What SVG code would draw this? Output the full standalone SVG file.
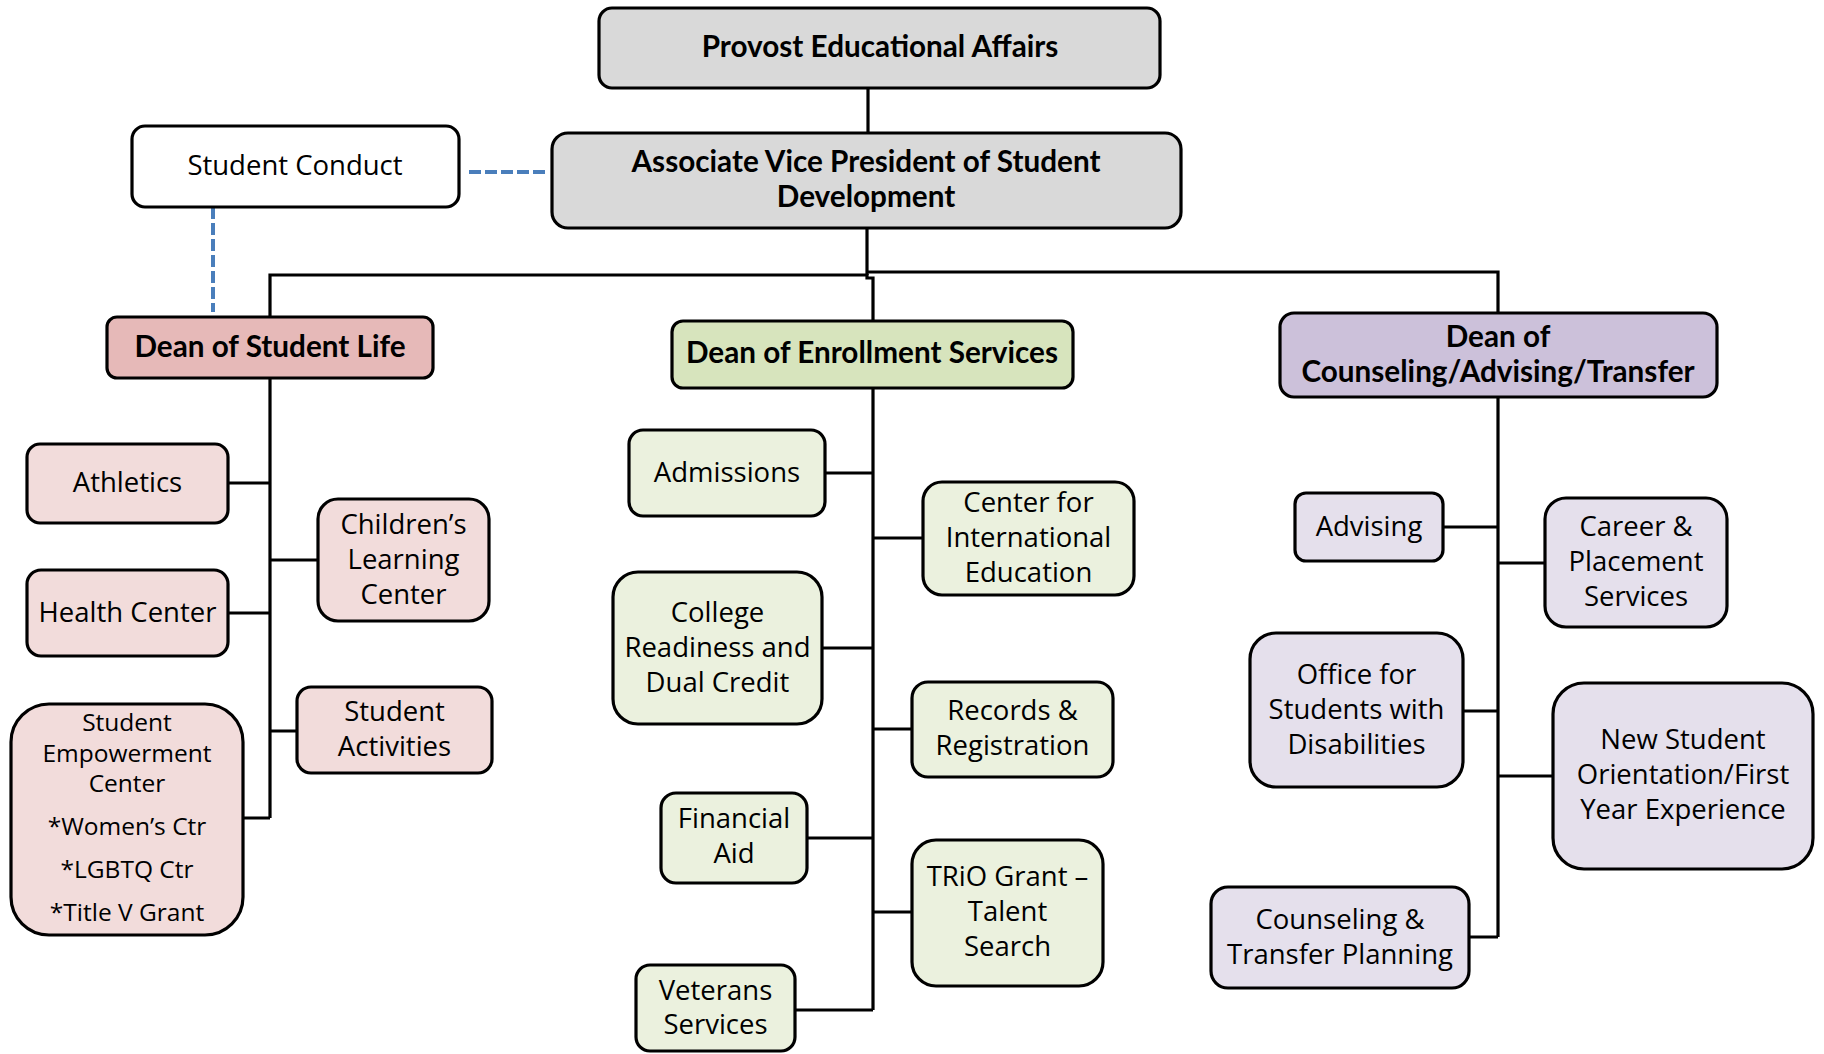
<svg xmlns="http://www.w3.org/2000/svg" width="1824" height="1054" viewBox="0 0 1824 1054">
<style>
  .box { stroke:#000; stroke-width:3.2; }
  .gray { fill:#D9D9D9; }
  .white { fill:#FFFFFF; }
  .redH { fill:#E6B9B8; }
  .red { fill:#F2DCDB; }
  .greenH { fill:#D7E4BD; }
  .green { fill:#EBF1DE; }
  .purpH { fill:#CCC1DA; }
  .purp { fill:#E5E0EC; }
  .t { font-family:"Open Sans","Liberation Sans",sans-serif; font-size:27.5px; fill:#000; text-anchor:middle; }
  .s { font-size:24.5px; }
  .b { font-family:Lato,"Liberation Sans",sans-serif; font-weight:bold; font-size:29.7px; fill:#000; text-anchor:middle; }
  .ln { fill:none; stroke:#000; stroke-width:3.2; }
  .dash { fill:none; stroke:#4A7EBB; stroke-width:4; stroke-dasharray:12 4; }
</style>
<rect width="1824" height="1054" fill="#fff"/>
<g id="connectors">
  <path class="ln" d="M868 88 V133"/>
  <path class="ln" d="M867 228 V275"/>
  <path class="ln" d="M270 317 V275 H867"/>
  <path class="ln" d="M867 272 H1498 V313"/>
  <path class="ln" d="M867 274 V278 H873 V321"/>
  <path class="ln" d="M270 378 V818 M228 483 H270 M270 560 H318 M228 613 H270 M270 731 H297 M243 818 H270"/>
  <path class="ln" d="M873 388 V1010 M825 473 H873 M873 538 H923 M822 648 H873 M873 729 H912 M807 838 H873 M873 912 H912 M795 1010 H873"/>
  <path class="ln" d="M1498 397 V937 M1443 527 H1498 M1498 563 H1545 M1463 711 H1498 M1498 776 H1553 M1469 937 H1498"/>
  <path class="dash" d="M469 172 H545"/>
  <path class="dash" d="M213 207 V312"/>
</g>
<g id="provost"><rect class="box gray" x="599" y="8" width="561" height="80" rx="13"/>
  <text class="b" x="880" y="57">Provost Educational Affairs</text></g>
<g id="avp"><rect class="box gray" x="552" y="133" width="629" height="95" rx="16"/>
  <text class="b" x="866" y="172">Associate Vice President of Student</text>
  <text class="b" x="866" y="207">Development</text></g>
<g id="student-conduct"><rect class="box white" x="132" y="126" width="327" height="81" rx="13"/>
  <text class="t" x="295" y="175">Student Conduct</text></g>
<g id="dean-student-life"><rect class="box redH" x="107" y="317" width="326" height="61" rx="10"/>
  <text class="b" x="270" y="357">Dean of Student Life</text></g>
<g id="dean-enrollment"><rect class="box greenH" x="672" y="321" width="401" height="67" rx="11"/>
  <text class="b" x="872" y="363">Dean of Enrollment Services</text></g>
<g id="dean-counseling"><rect class="box purpH" x="1280" y="313" width="437" height="84" rx="14"/>
  <text class="b" x="1498" y="347">Dean of</text>
  <text class="b" x="1498" y="382">Counseling/Advising/Transfer</text></g>

<g id="athletics"><rect class="box red" x="27" y="444" width="201" height="79" rx="13"/>
  <text class="t" x="127.5" y="492">Athletics</text></g>
<g id="childrens"><rect class="box red" x="318" y="499" width="171" height="122" rx="20"/>
  <text class="t" x="403.5" y="534">Children’s</text>
  <text class="t" x="403.5" y="569">Learning</text>
  <text class="t" x="403.5" y="604">Center</text></g>
<g id="health"><rect class="box red" x="27" y="570" width="201" height="86" rx="14"/>
  <text class="t" x="127.5" y="622">Health Center</text></g>
<g id="activities"><rect class="box red" x="297" y="687" width="195" height="86" rx="14"/>
  <text class="t" x="394.5" y="721">Student</text>
  <text class="t" x="394.5" y="756">Activities</text></g>
<g id="empowerment"><rect class="box red" x="11" y="704" width="232" height="231" rx="38"/>
  <text class="t s" x="127" y="731">Student</text>
  <text class="t s" x="127" y="762">Empowerment</text>
  <text class="t s" x="127" y="792">Center</text>
  <text class="t s" x="127" y="835">*Women’s Ctr</text>
  <text class="t s" x="127" y="878">*LGBTQ Ctr</text>
  <text class="t s" x="127" y="921">*Title V Grant</text></g>

<g id="admissions"><rect class="box green" x="629" y="430" width="196" height="86" rx="14"/>
  <text class="t" x="727" y="482">Admissions</text></g>
<g id="international"><rect class="box green" x="923" y="482" width="211" height="113" rx="19"/>
  <text class="t" x="1028.5" y="512">Center for</text>
  <text class="t" x="1028.5" y="547">International</text>
  <text class="t" x="1028.5" y="582">Education</text></g>
<g id="college-readiness"><rect class="box green" x="613" y="572" width="209" height="152" rx="25"/>
  <text class="t" x="717.5" y="622">College</text>
  <text class="t" x="717.5" y="657">Readiness and</text>
  <text class="t" x="717.5" y="692">Dual Credit</text></g>
<g id="records"><rect class="box green" x="912" y="682" width="201" height="95" rx="16"/>
  <text class="t" x="1012.5" y="720">Records &amp;</text>
  <text class="t" x="1012.5" y="755">Registration</text></g>
<g id="financial-aid"><rect class="box green" x="661" y="793" width="146" height="90" rx="15"/>
  <text class="t" x="734" y="828">Financial</text>
  <text class="t" x="734" y="863">Aid</text></g>
<g id="trio"><rect class="box green" x="912" y="840" width="191" height="146" rx="24"/>
  <text class="t" x="1007.5" y="886">TRiO Grant –</text>
  <text class="t" x="1007.5" y="921">Talent</text>
  <text class="t" x="1007.5" y="956">Search</text></g>
<g id="veterans"><rect class="box green" x="636" y="965" width="159" height="86" rx="14"/>
  <text class="t" x="715.5" y="1000">Veterans</text>
  <text class="t" x="715.5" y="1034">Services</text></g>

<g id="advising"><rect class="box purp" x="1295" y="493" width="148" height="68" rx="11"/>
  <text class="t" x="1369" y="536">Advising</text></g>
<g id="career"><rect class="box purp" x="1545" y="498" width="182" height="129" rx="21"/>
  <text class="t" x="1636" y="536">Career &amp;</text>
  <text class="t" x="1636" y="571">Placement</text>
  <text class="t" x="1636" y="606">Services</text></g>
<g id="disabilities"><rect class="box purp" x="1250" y="633" width="213" height="154" rx="26"/>
  <text class="t" x="1356.5" y="684">Office for</text>
  <text class="t" x="1356.5" y="719">Students with</text>
  <text class="t" x="1356.5" y="754">Disabilities</text></g>
<g id="orientation"><rect class="box purp" x="1553" y="683" width="260" height="186" rx="31"/>
  <text class="t" x="1683" y="749">New Student</text>
  <text class="t" x="1683" y="784">Orientation/First</text>
  <text class="t" x="1683" y="819">Year Experience</text></g>
<g id="counseling-transfer"><rect class="box purp" x="1211" y="887" width="258" height="101" rx="17"/>
  <text class="t" x="1340" y="929">Counseling &amp;</text>
  <text class="t" x="1340" y="964">Transfer Planning</text></g>
</svg>
